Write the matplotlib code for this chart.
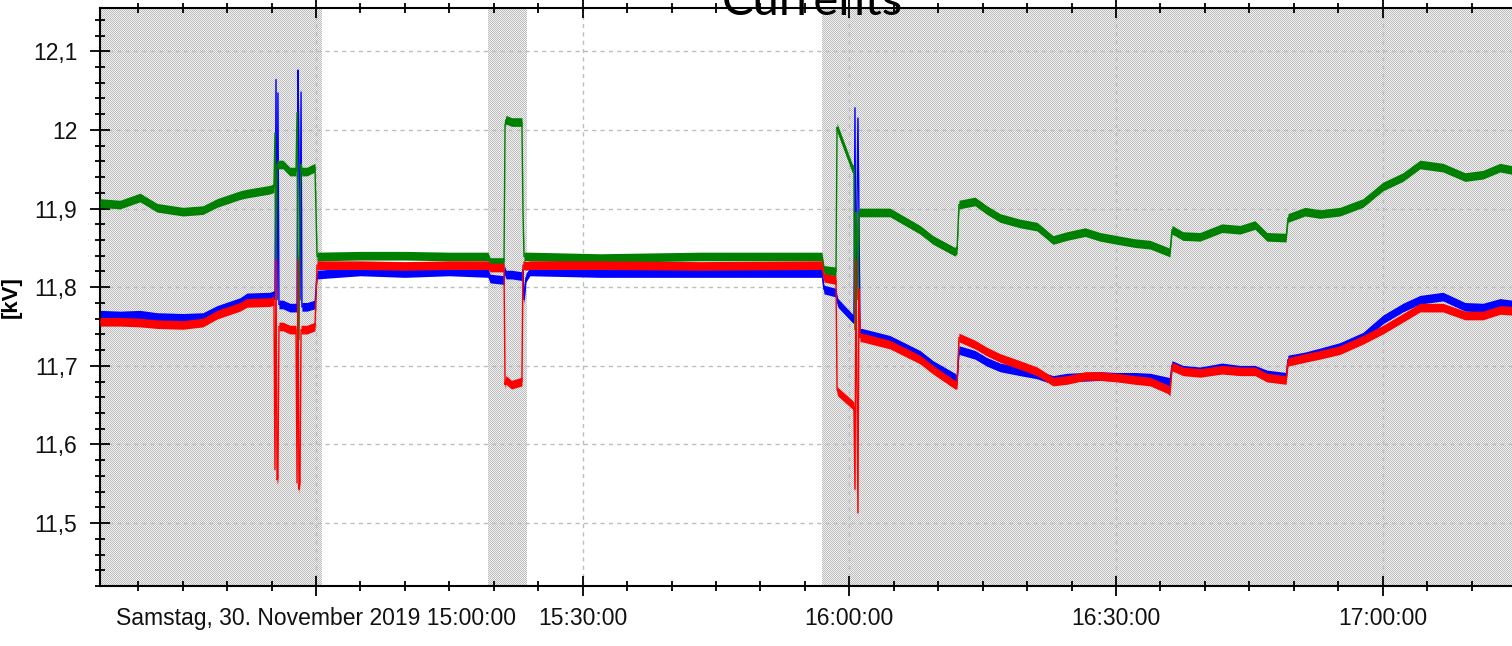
import numpy as np
import pandas as pd
import matplotlib
matplotlib.use('Agg')
import matplotlib.pyplot as plt
import matplotlib.dates as mdates
from matplotlib.ticker import MultipleLocator

plt.rcParams['font.family'] = ['Liberation Sans', 'DejaVu Sans']

day = "2019-11-30 "

# Messpunkte (Uhrzeit) und Werte der drei Phasen in kV
times = [
    "14:35:42", "14:37:57", "14:40:12", "14:42:07", "14:45:02", "14:47:17",
    "14:48:52", "14:51:27", "14:52:14", "14:54:50", "14:55:16", "14:55:23",
    "14:55:30", "14:55:37", "14:55:43", "14:55:50", "14:56:17", "14:57:04",
    "14:57:45", "14:57:52", "14:57:58", "14:58:05", "14:58:12", "14:58:19",
    "14:58:25", "14:58:59", "14:59:53", "15:00:07", "15:05:00", "15:10:00",
    "15:15:00", "15:19:21", "15:19:35", "15:21:09", "15:21:16", "15:21:22",
    "15:22:00", "15:23:10", "15:23:17", "15:23:24", "15:23:37", "15:24:04",
    "15:31:57", "15:43:12", "15:56:55", "15:57:09", "15:58:30", "15:58:37",
    "15:58:43", "16:00:18", "16:00:31", "16:00:38", "16:00:45", "16:00:52",
    "16:00:58", "16:01:05", "16:01:12", "16:01:25", "16:04:34", "16:07:57",
    "16:09:25", "16:11:53", "16:12:07", "16:12:20", "16:14:08", "16:15:29",
    "16:16:57", "16:19:12", "16:21:07", "16:22:55", "16:24:29", "16:26:31",
    "16:28:12", "16:30:07", "16:32:08", "16:33:50", "16:35:51", "16:36:04",
    "16:36:18", "16:37:32", "16:39:27", "16:41:55", "16:43:57", "16:45:38",
    "16:46:59", "16:49:08", "16:49:21", "16:51:16", "16:52:57", "16:55:12",
    "16:57:47", "17:00:02", "17:02:17", "17:04:12", "17:06:47", "17:09:16",
    "17:11:17", "17:13:12", "17:14:33",
]
green = [
    11.907, 11.905, 11.914, 11.901, 11.896, 11.898,
    11.907, 11.917, 11.919, 11.924, 11.926, 11.996,
    11.835, 11.956, 11.956, 11.956, 11.956, 11.947,
    11.947, 12.022, 11.848, 11.733, 11.911, 11.956,
    11.947, 11.947, 11.952, 11.839, 11.840, 11.840,
    11.839, 11.839, 11.832, 11.832, 12.006, 12.013,
    12.010, 12.010, 11.896, 11.839, 11.839, 11.839,
    11.837, 11.839, 11.839, 11.822, 11.820, 12.003,
    12.000, 11.952, 11.949, 11.746, 11.895, 11.873,
    11.784, 11.895, 11.895, 11.895, 11.895, 11.873,
    11.860, 11.845, 11.848, 11.905, 11.909, 11.898,
    11.888, 11.881, 11.877, 11.860, 11.865, 11.870,
    11.864, 11.860, 11.856, 11.854, 11.845, 11.844,
    11.873, 11.865, 11.864, 11.875, 11.873, 11.879,
    11.864, 11.863, 11.888, 11.896, 11.893, 11.896,
    11.907, 11.928, 11.940, 11.956, 11.952, 11.940,
    11.943, 11.952, 11.949,
]
blue = [
    11.765, 11.764, 11.765, 11.762, 11.761, 11.762,
    11.771, 11.781, 11.787, 11.788, 11.790, 11.790,
    12.064, 11.784, 12.047, 11.778, 11.778, 11.774,
    11.774, 11.774, 12.076, 11.983, 11.784, 12.048,
    11.775, 11.775, 11.778, 11.816, 11.820, 11.818,
    11.820, 11.818, 11.811, 11.809, 11.822, 11.816,
    11.816, 11.814, 11.822, 11.784, 11.812, 11.820,
    11.818, 11.818, 11.818, 11.797, 11.793, 11.784,
    11.780, 11.761, 11.759, 12.028, 11.759, 11.911,
    12.015, 11.892, 11.742, 11.742, 11.733, 11.714,
    11.701, 11.685, 11.682, 11.720, 11.714, 11.705,
    11.698, 11.693, 11.689, 11.682, 11.685, 11.686,
    11.687, 11.686, 11.686, 11.685, 11.680, 11.679,
    11.701, 11.695, 11.693, 11.698, 11.695, 11.695,
    11.689, 11.686, 11.708, 11.712, 11.717, 11.724,
    11.737, 11.759, 11.774, 11.784, 11.788, 11.775,
    11.774, 11.780, 11.778,
]
red = [
    11.756, 11.756, 11.755, 11.753, 11.752, 11.755,
    11.765, 11.775, 11.780, 11.781, 11.783, 11.568,
    11.835, 11.555, 11.558, 11.750, 11.750, 11.746,
    11.746, 11.551, 11.835, 11.543, 11.555, 11.746,
    11.746, 11.746, 11.750, 11.828, 11.828, 11.827,
    11.828, 11.828, 11.825, 11.825, 11.676, 11.682,
    11.676, 11.680, 11.828, 11.828, 11.827, 11.828,
    11.828, 11.827, 11.828, 11.812, 11.809, 11.670,
    11.667, 11.651, 11.648, 11.543, 11.835, 11.657,
    11.513, 11.797, 11.736, 11.736, 11.727, 11.708,
    11.695, 11.676, 11.676, 11.736, 11.727, 11.718,
    11.710, 11.701, 11.693, 11.680, 11.682, 11.687,
    11.687, 11.685, 11.682, 11.680, 11.670, 11.667,
    11.699, 11.693, 11.691, 11.695, 11.693, 11.693,
    11.685, 11.682, 11.705, 11.710, 11.714, 11.720,
    11.733, 11.746, 11.761, 11.774, 11.774, 11.764,
    11.764, 11.771, 11.770,
]

# schraffierte Zeitbereiche
shade_start = ["14:30:00", "15:19:21", "15:56:55"]
shade_end = ["15:00:40", "15:23:44", "17:30:00"]

x_start, x_end = "14:35:42", "17:14:33"
y_min, y_max = 11.42, 12.155

xtick_times = ["15:00:00", "15:30:00", "16:00:00", "16:30:00", "17:00:00"]
xtick_labels = ["Samstag, 30. November 2019 15:00:00", "15:30:00",
                "16:00:00", "16:30:00", "17:00:00"]
ytick_values = [11.5, 11.6, 11.7, 11.8, 11.9, 12.0, 12.1]
ytick_labels = ["11,5", "11,6", "11,7", "11,8", "11,9", "12", "12,1"]


def to_num(clock):
    return mdates.date2num(pd.to_datetime([day + c for c in clock]).to_pydatetime())


t = to_num(times)
x0, x1 = to_num([x_start, x_end])

fig = plt.figure(figsize=(15.12, 6.46), dpi=100)
ax = fig.add_axes([100 / 1512, 60 / 646, 1412 / 1512, 578 / 646])
ax.xaxis_date()

# Punktraster fuer die markierten Bereiche
W, H = 1412, 578
cols = np.linspace(x0, x1, W)
inside = np.zeros(W, dtype=bool)
for s, e in zip(to_num(shade_start), to_num(shade_end)):
    inside |= (cols >= s) & (cols <= e)
jj, ii = np.meshgrid(np.arange(W), np.arange(H))
img = np.ones((H, W, 3))
img[inside[None, :].repeat(H, axis=0)] = 0.95
img[((ii + jj) % 2 == 0) & inside[None, :]] = 0.74
ax.imshow(img, extent=(x0, x1, y_min, y_max), aspect='auto',
          interpolation='none', zorder=0)

band = 0.0055
for vals, col, z in [(blue, '#0000ff', 2), (green, '#008000', 3), (red, '#ff0000', 4)]:
    v = np.array(vals)
    ax.fill_between(t, v - band, v + band, color=col, lw=0, zorder=z)
    ax.plot(t, v, color=col, lw=1.0, zorder=z)

ax.set_xlim(x0, x1)
ax.set_ylim(y_min, y_max)

ax.set_xticks(to_num(xtick_times))
ax.set_xticklabels(xtick_labels)
ax.xaxis.set_minor_locator(mdates.MinuteLocator(byminute=range(0, 60, 5)))
ax.set_yticks(ytick_values)
ax.set_yticklabels(ytick_labels)
ax.yaxis.set_minor_locator(MultipleLocator(0.02))

ax.grid(which='major', color='#bdbdbd', linestyle=(0, (3, 3)), linewidth=1.0, zorder=1)

for side in ['left', 'bottom', 'top']:
    ax.spines[side].set_linewidth(1.5)
ax.spines['right'].set_visible(False)

ax.tick_params(which='major', direction='inout', length=14.4, width=1.3,
               labelsize=16.5, labelcolor='#111111', top=True, right=False)
ax.tick_params(which='minor', direction='inout', length=7.2, width=1.3,
               top=True, right=False)
ax.tick_params(axis='x', which='major', pad=8)
ax.tick_params(axis='y', which='major', pad=9)

ax.set_ylabel("[kV]", fontsize=16, fontweight='bold')
ax.yaxis.set_label_coords((22 - 100) / 1412, 0.5)

fig.text(812 / 1512, 1 - 15 / 646, "Currents", ha='center', va='baseline',
         fontsize=34, color='black', family=['Lato', 'DejaVu Sans'])

fig.savefig('out.png', dpi=100, facecolor='white')
